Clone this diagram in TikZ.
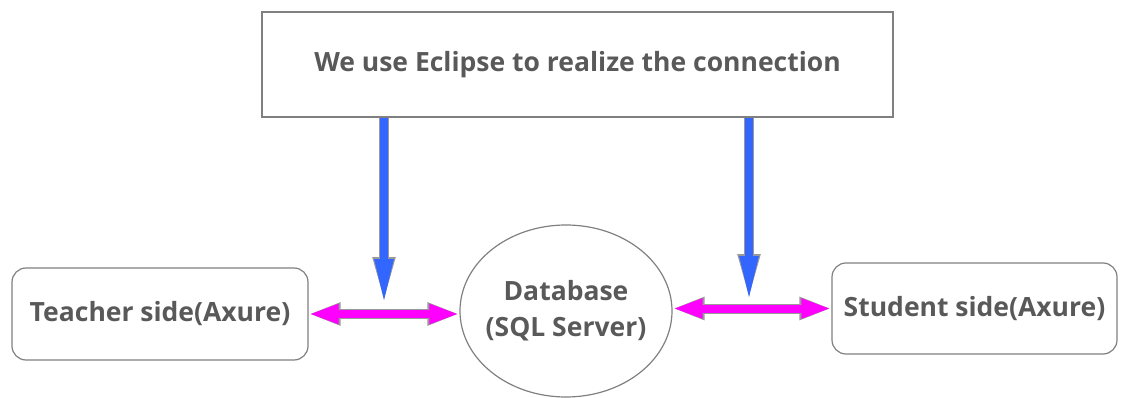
\documentclass[tikz,border=0pt]{standalone}
\usepackage{fontspec}
\setmainfont{Open Sans}
\usetikzlibrary{arrows.meta,shapes.geometric}
\definecolor{txtgray}{RGB}{89,89,89}
\definecolor{boxgray}{RGB}{128,128,128}
\definecolor{arrblue}{RGB}{51,102,255}
\definecolor{arrpink}{RGB}{255,0,255}
\tikzset{
  box/.style={draw=boxgray, line width=1.2pt, text=txtgray, font=\fontsize{26.5}{36}\selectfont\bfseries},
  downarrow/.style={draw=arrblue, line width=8pt, -{Triangle[length=46pt,width=17pt]},
    preaction={draw=boxgray!80, line width=10pt, -{Triangle[length=48pt,width=20pt]}}},
  linkarrow/.style={draw=arrpink, line width=8pt, {Triangle[length=30pt,width=18pt]}-{Triangle[length=30pt,width=18pt]},
    preaction={draw=boxgray!80, line width=10pt, {Triangle[length=32pt,width=21pt]}-{Triangle[length=32pt,width=21pt]}}}
}
\begin{document}
\begin{tikzpicture}[x=1pt,y=-1pt]
\useasboundingbox (0,0) rectangle (1127,398);

\node[box, rectangle, minimum width=631pt, minimum height=105pt] (eclipse) at (577.5,64.5) {We use Eclipse to realize the connection};
\node[box, rectangle, rounded corners=14pt, minimum width=296pt, minimum height=92pt] (teacher) at (160,314) {Teacher side(Axure)};
\node[box, ellipse, minimum width=212pt, minimum height=172pt, align=center, inner sep=-6pt] (db) at (566,311) {Database\\(SQL Server)};
\node[box, rectangle, rounded corners=14pt, minimum width=285pt, minimum height=91pt] (student) at (974.5,308.5) {Student side(Axure)};

\coordinate (lefttip) at (384,305);
\coordinate (righttip) at (749,302);

\path[downarrow] (lefttip |- eclipse.south) -- (lefttip);
\path[downarrow] (righttip |- eclipse.south) -- (righttip);

\path[linkarrow] (teacher.east) -- (teacher.east -| db.west);
\path[linkarrow] (student.west -| db.east) -- (student.west);

\end{tikzpicture}
\end{document}
